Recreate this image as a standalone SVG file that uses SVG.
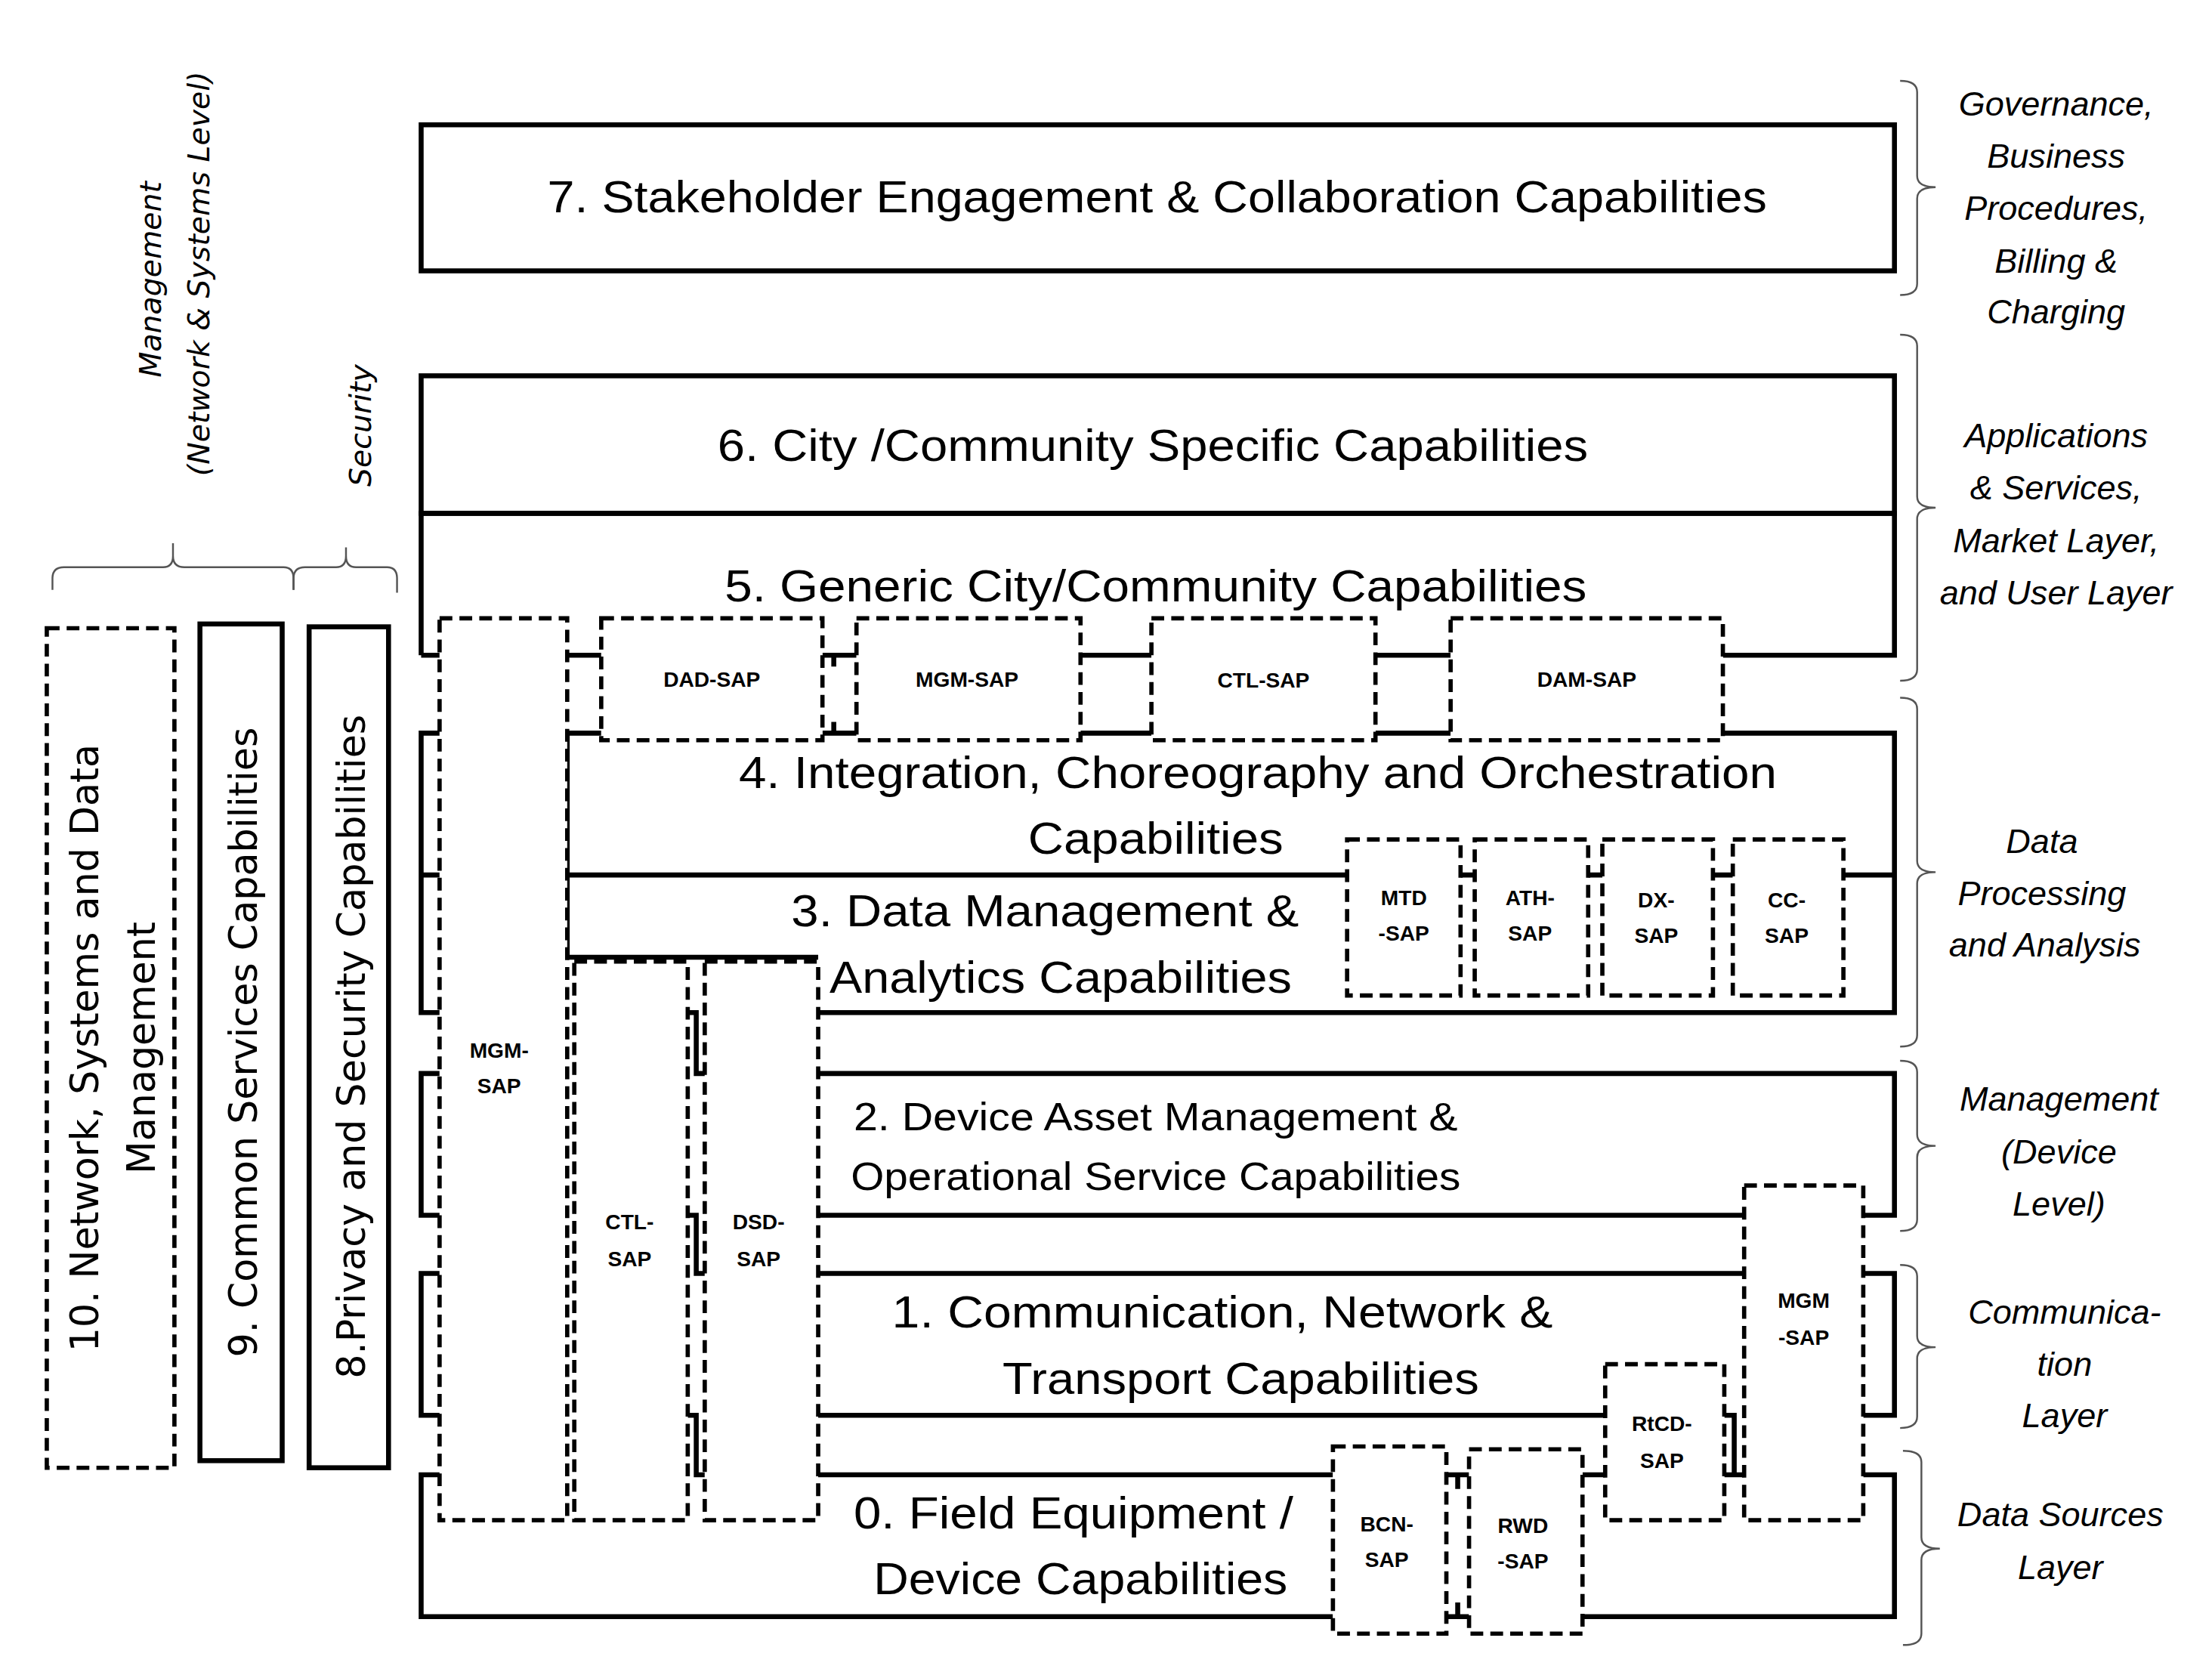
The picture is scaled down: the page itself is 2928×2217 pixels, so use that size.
<svg xmlns="http://www.w3.org/2000/svg" width="2928" height="2217" viewBox="0 0 2928 2217">
<style>
.s{fill:none;stroke:#000;stroke-width:3.5;stroke-linejoin:miter}
.d{fill:#fff;stroke:#000;stroke-width:3;stroke-dasharray:9 5}
.br{fill:none;stroke:#555;stroke-width:1.3}
.t{font-family:"Liberation Sans",Arial,sans-serif;font-size:32px;fill:#000;dominant-baseline:central;text-anchor:middle}
.m{font-size:28px}
.sap{font-family:"Liberation Sans",Arial,sans-serif;font-size:15px;font-weight:bold;fill:#000;dominant-baseline:central;text-anchor:middle}
.v{font-family:"DejaVu Sans",Verdana,sans-serif;font-size:27px;fill:#000;dominant-baseline:central;text-anchor:middle}
.i{font-family:"Liberation Sans",Arial,sans-serif;font-style:italic;font-size:24px;fill:#000;dominant-baseline:central;text-anchor:middle}
.vi{font-family:"DejaVu Sans",Verdana,sans-serif;font-style:italic;font-size:21px;fill:#000;dominant-baseline:central;text-anchor:middle}
</style>
<rect width="2928" height="2217" fill="#fff"/>
<g transform="scale(1.877)">
<g id="connectors">
<path class="s" d="M297,462 V362 H1336 V462 H1215 M1023,462 H970 M812,462 H762 M604,462 H580 M424,462 H400 M297,462 H310"/>
<path class="s" d="M400,517 H424 M580,517 H604 M762,517 H812 M970,517 H1023 M1215,517 H1336 V714 H577"/>
<path class="s" d="M588,462 V470 M588,509 V517"/>
<path class="s" d="M400,617 H950 M1030,617 H1040 M1120,617 H1130 M1208,617 H1222 M1300,617 H1336"/>
<path class="s" d="M400,517 V675 H577"/>
<path class="s" d="M577,757 H1336 V857 H1314 M1230,857 H577"/>
<path class="s" d="M577,898 H1230 M1314,898 H1336 V998 H1314 M1132,998 H577"/>
<path class="s" d="M577,1040 H940 M1020,1040 H1036 M1116,1040 H1132 M1216,1040 H1230 M1314,1040 H1336 V1140 H1116 M1036,1140 H1020 M940,1140 H297 V1040 H310"/>
<path class="s" d="M310,517 H297 V617 H310 M297,617 V714 H310 M310,757 H297 V857 H310 M310,898 H297 V998 H310"/>
<path class="s" d="M485,714 H491 V757 H497 M485,857 H491 V898 H497 M485,998 H491 V1040 H497 M1216,998 H1223 V1040"/>
<path class="s" d="M1028,1040 V1050 M1028,1130 V1140"/>
</g>
<g id="n7"><rect class="s" x="297" y="88" width="1039" height="103"/>
<text class="t" x="816" y="139" textLength="860" lengthAdjust="spacingAndGlyphs">7. Stakeholder Engagement &amp; Collaboration Capabilities</text></g>
<g id="n6"><rect class="s" x="297" y="265" width="1039" height="97"/>
<text class="t" x="813" y="314" textLength="614" lengthAdjust="spacingAndGlyphs">6. City /Community Specific Capabilities</text></g>
<g id="n5"><text class="t" x="815" y="413" textLength="608" lengthAdjust="spacingAndGlyphs">5. Generic City/Community Capabilities</text></g>
<g id="n4"><text class="t" x="887" y="545" textLength="732" lengthAdjust="spacingAndGlyphs">4. Integration, Choreography and Orchestration</text>
<text class="t" x="815" y="591" textLength="180" lengthAdjust="spacingAndGlyphs">Capabilities</text></g>
<g id="n3"><text class="t" x="737" y="642" textLength="358" lengthAdjust="spacingAndGlyphs">3. Data Management &amp;</text>
<text class="t" x="748" y="689" textLength="326" lengthAdjust="spacingAndGlyphs">Analytics Capabilities</text></g>
<g id="n2"><text class="t m" x="815" y="787" textLength="426" lengthAdjust="spacingAndGlyphs">2. Device  Asset  Management  &amp;</text>
<text class="t m" x="815" y="829" textLength="430" lengthAdjust="spacingAndGlyphs">Operational  Service  Capabilities</text></g>
<g id="n1"><text class="t" x="862" y="925" textLength="466" lengthAdjust="spacingAndGlyphs">1. Communication, Network &amp;</text>
<text class="t" x="875" y="972" textLength="336" lengthAdjust="spacingAndGlyphs">Transport Capabilities</text></g>
<g id="n0"><text class="t" x="757" y="1067" textLength="310" lengthAdjust="spacingAndGlyphs">0. Field Equipment /</text>
<text class="t" x="762" y="1113" textLength="292" lengthAdjust="spacingAndGlyphs">Device Capabilities</text></g>

<g id="sap-mgm-left"><rect class="d" x="310" y="436" width="90" height="636"/><text class="sap" x="352" y="741">MGM-</text><text class="sap" x="352" y="766">SAP</text></g>
<g id="sap-ctl-left"><rect class="d" x="405" y="678" width="80" height="394"/><text class="sap" x="444" y="862">CTL-</text><text class="sap" x="444" y="888">SAP</text></g>
<g id="sap-dsd"><rect class="d" x="497" y="678" width="80" height="394"/><text class="sap" x="535" y="862">DSD-</text><text class="sap" x="535" y="888">SAP</text></g>
<g id="sap-dad"><rect class="d" x="424" y="436" width="156" height="86"/><text class="sap" x="502" y="479">DAD-SAP</text></g>
<g id="sap-mgm-top"><rect class="d" x="604" y="436" width="158" height="86"/><text class="sap" x="682" y="479">MGM-SAP</text></g>
<g id="sap-ctl-top"><rect class="d" x="812" y="436" width="158" height="86"/><text class="sap" x="891" y="480">CTL-SAP</text></g>
<g id="sap-dam"><rect class="d" x="1023" y="436" width="192" height="86"/><text class="sap" x="1119" y="479">DAM-SAP</text></g>
<g id="sap-mtd"><rect class="d" x="950" y="592" width="80" height="110"/><text class="sap" x="990" y="633">MTD</text><text class="sap" x="990" y="658">-SAP</text></g>
<g id="sap-ath"><rect class="d" x="1040" y="592" width="80" height="110"/><text class="sap" x="1079" y="633">ATH-</text><text class="sap" x="1079" y="658">SAP</text></g>
<g id="sap-dx"><rect class="d" x="1130" y="592" width="78" height="110"/><text class="sap" x="1168" y="635">DX-</text><text class="sap" x="1168" y="660">SAP</text></g>
<g id="sap-cc"><rect class="d" x="1222" y="592" width="78" height="110"/><text class="sap" x="1260" y="635">CC-</text><text class="sap" x="1260" y="660">SAP</text></g>
<g id="sap-mgm-right"><rect class="d" x="1230" y="836" width="84" height="236"/><text class="sap" x="1272" y="917">MGM</text><text class="sap" x="1272" y="943">-SAP</text></g>
<g id="sap-rtcd"><rect class="d" x="1132" y="962" width="84" height="110"/><text class="sap" x="1172" y="1004">RtCD-</text><text class="sap" x="1172" y="1030">SAP</text></g>
<g id="sap-bcn"><rect class="d" x="940" y="1020" width="80" height="132"/><text class="sap" x="978" y="1075">BCN-</text><text class="sap" x="978" y="1100">SAP</text></g>
<g id="sap-rwd"><rect class="d" x="1036" y="1022" width="80" height="130"/><text class="sap" x="1074" y="1076">RWD</text><text class="sap" x="1074" y="1101">-SAP</text></g>

<g id="n10"><rect class="d" x="33" y="443" width="90" height="592"/>
<text class="v" transform="translate(60,739) rotate(-90)">10. Network, Systems and Data</text>
<text class="v" transform="translate(100,739) rotate(-90)">Management</text></g>
<g id="n9"><rect class="s" x="141" y="440" width="58" height="590"/>
<text class="v" transform="translate(172,735) rotate(-90)">9. Common Services Capabilities</text></g>
<g id="n8"><rect class="s" x="218" y="442" width="56" height="593"/>
<text class="v" transform="translate(248,738) rotate(-90)">8.Privacy and Security Capabilities</text></g>

<g id="left-labels">
<path class="br" d="M37,416 V408 Q37,400 45,400 H115 Q122,400 122,392 V383 M122,392 Q122,400 130,400 H200 Q207,400 207,408 V416"/>
<path class="br" d="M207,416 V408 Q207,400 215,400 H237 Q244,400 244,392 V386 M244,392 Q244,400 251,400 H273 Q280,400 280,408 V418"/>
<text class="vi" transform="translate(106,197) rotate(-90)">Management</text>
<text class="vi" transform="translate(140,193) rotate(-90)">(Network &amp; Systems Level)</text>
<text class="vi" transform="translate(254,300) rotate(-90)">Security</text>
</g>
<g id="right-labels">
<path class="br" d="M1340,57 Q1352,57 1352,65 V124 Q1352,132 1365,132 Q1352,132 1352,140 V200 Q1352,208 1340,208"/>
<path class="br" d="M1340,236 Q1352,236 1352,244 V350 Q1352,358 1365,358 Q1352,358 1352,366 V472 Q1352,480 1340,480"/>
<path class="br" d="M1340,492 Q1352,492 1352,500 V607 Q1352,615 1365,615 Q1352,615 1352,623 V730 Q1352,738 1340,738"/>
<path class="br" d="M1340,748 Q1352,748 1352,756 V800 Q1352,808 1365,808 Q1352,808 1352,816 V860 Q1352,868 1340,868"/>
<path class="br" d="M1340,892 Q1352,892 1352,900 V942 Q1352,950 1365,950 Q1352,950 1352,958 V999 Q1352,1007 1340,1007"/>
<path class="br" d="M1342,1023 Q1355,1023 1355,1031 V1084 Q1355,1092 1368,1092 Q1355,1092 1355,1100 V1152 Q1355,1160 1342,1160"/>
<text class="i" x="1450" y="73">Governance,</text><text class="i" x="1450" y="110">Business</text><text class="i" x="1450" y="147">Procedures,</text><text class="i" x="1450" y="184">Billing &amp;</text><text class="i" x="1450" y="220">Charging</text>
<text class="i" x="1450" y="307">Applications</text><text class="i" x="1450" y="344">&amp; Services,</text><text class="i" x="1450" y="381">Market Layer,</text><text class="i" x="1450" y="418">and User Layer</text>
<text class="i" x="1440" y="593">Data</text><text class="i" x="1440" y="630">Processing</text><text class="i" x="1442" y="666">and Analysis</text>
<text class="i" x="1452" y="775">Management</text><text class="i" x="1452" y="812">(Device</text><text class="i" x="1452" y="849">Level)</text>
<text class="i" x="1456" y="925">Communica-</text><text class="i" x="1456" y="962">tion</text><text class="i" x="1456" y="998">Layer</text>
<text class="i" x="1453" y="1068">Data Sources</text><text class="i" x="1453" y="1105">Layer</text>
</g>
</g>
</svg>
